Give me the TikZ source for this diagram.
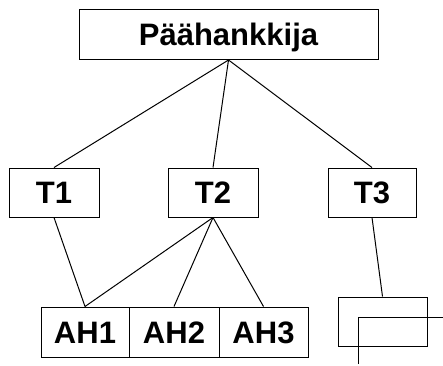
\documentclass[tikz,border=0pt]{standalone}
\usepackage{fontspec}
\setmainfont{Liberation Sans}
\begin{document}
\begin{tikzpicture}[x=1pt,y=-1pt,line width=1pt,
  box/.style={draw,rectangle,inner sep=0pt,text height=22.2pt,text depth=0pt,
    font=\fontsize{31}{33}\selectfont\bfseries},
  link/.style={line width=1pt}]
\useasboundingbox (0,0) rectangle (443,365);
% main contractor
\node[box,minimum width=299pt,minimum height=50pt] (main) at (228.5,34.5) {Päähankkija};
% second tier
\node[box,minimum width=90pt,minimum height=49pt] (t1) at (54,192.5) {T1};
\node[box,minimum width=90pt,minimum height=49pt] (t2) at (213,192.5) {T2};
\node[box,minimum width=88pt,minimum height=49pt] (t3) at (372,192.5) {T3};
% subcontractors
\node[box,minimum width=88pt,minimum height=50pt] (ah1) at (85,332) {AH1};
\node[box,minimum width=90pt,minimum height=50pt] (ah2) at (174,332) {AH2};
\node[box,minimum width=89pt,minimum height=50pt] (ah3) at (263.5,332) {AH3};
% small empty box under T3 and the overlapping corner
\node[box,minimum width=89pt,minimum height=49pt] (sub) at (382.5,321.5) {};
\coordinate (cornerA) at (358,364);
\coordinate (cornerB) at (358,317);
\coordinate (cornerC) at (443,317);
% connectors
\draw[link] (main.south) -- (t1.north);
\draw[link] (main.south) -- (t2.north);
\draw[link] (main.south) -- (t3.north);
\draw[link] (t1.south) -- (ah1.north);
\draw[link] (t2.south) -- (ah1.north);
\draw[link] (t2.south) -- (ah2.north);
\draw[link] (t2.south) -- (ah3.north);
\draw[link] (t3.south) -- (sub.north);
\draw[link] (cornerA) -- (cornerB) -- (cornerC);
\end{tikzpicture}
\end{document}
